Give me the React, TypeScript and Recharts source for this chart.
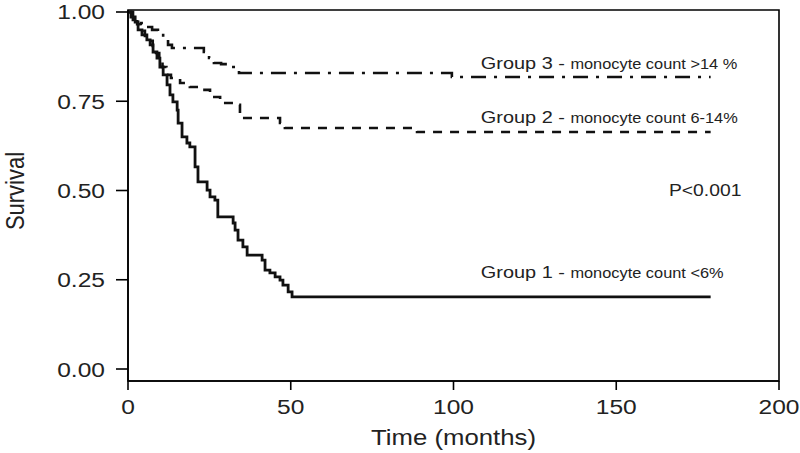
import React from 'react';
import { LineChart, Line, XAxis, YAxis, ReferenceArea, ReferenceDot } from 'recharts';

// Kaplan-Meier survival estimates (time in months, survival fraction)
const group1Time = [0, 0.9, 2.2, 3.1, 4.3, 5.8, 6.8, 7.7, 8.9, 9.8, 10.8, 12.0, 12.9, 13.8, 15.1, 15.4, 16.6, 18.1, 19.0, 20.6, 21.5, 24.3, 25.2, 26.7, 27.6, 32.3, 32.9, 33.8, 35.3, 36.6, 41.2, 42.1, 43.6, 45.2, 46.7, 47.6, 49.2, 50.4, 179];
const group1Surv = [1.0, 0.986, 0.972, 0.95, 0.936, 0.922, 0.908, 0.888, 0.871, 0.846, 0.824, 0.796, 0.768, 0.748, 0.725, 0.689, 0.65, 0.633, 0.622, 0.566, 0.524, 0.501, 0.482, 0.473, 0.426, 0.409, 0.389, 0.361, 0.342, 0.319, 0.305, 0.277, 0.269, 0.258, 0.249, 0.235, 0.216, 0.202, 0.202];

const group2Time = [0, 1.5, 2.8, 3.9, 5.2, 6.5, 7.6, 8.6, 9.6, 10.6, 11.8, 13.2, 16.0, 19.0, 22.1, 25.2, 28.3, 32.3, 34.4, 35.3, 46.7, 48.2, 88.8, 179];
const group2Surv = [1.0, 0.983, 0.966, 0.947, 0.933, 0.919, 0.905, 0.885, 0.868, 0.846, 0.824, 0.815, 0.801, 0.79, 0.782, 0.762, 0.745, 0.74, 0.711, 0.703, 0.689, 0.675, 0.664, 0.664];

const group3Time = [0, 1.5, 3.1, 5.2, 7.4, 9.2, 10.8, 12.3, 13.5, 23.3, 24.9, 26.4, 28.6, 31.0, 33.2, 34.1, 99.5, 179];
const group3Surv = [1.0, 0.978, 0.969, 0.958, 0.95, 0.944, 0.927, 0.908, 0.899, 0.888, 0.871, 0.857, 0.854, 0.846, 0.838, 0.829, 0.818, 0.818];

const xTicks = [0, 50, 100, 150, 200];
const yTicks = [0, 0.25, 0.5, 0.75, 1.0];

const groupLabels = ['Group 3 - ', 'Group 2 - ', 'Group 1 - '];
const groupSubLabels = ['monocyte count >14 %', 'monocyte count 6-14%', 'monocyte count <6%'];
const labelTimes = [108.4, 108.4, 108.4];
const labelSurv = [0.84, 0.689, 0.255];
const pValueText = 'P<0.001';
const pValueTime = 166.2;
const pValueSurv = 0.485;

const toPoints = (t: number[], s: number[]) => t.map((v, i) => ({ t: v, s: s[i] }));
const g1 = toPoints(group1Time, group1Surv);
const g2 = toPoints(group2Time, group2Surv);
const g3 = toPoints(group3Time, group3Surv);

const FONT = '"Liberation Sans", Arial, Helvetica, sans-serif';
const SX = 1.17;
const TXT = '#222';

const XTick = (props: any) => {
  const { x, y, payload } = props;
  return (
    <g transform={`translate(${x},${y + 22}) scale(${SX},1)`}>
      <text x={0} y={0} textAnchor="middle" fontFamily={FONT} fontSize={21} fill={TXT}>{payload.value}</text>
    </g>
  );
};

const YTick = (props: any) => {
  const { x, y, payload } = props;
  return (
    <g transform={`translate(${x},${y + 7.5}) scale(${SX},1)`}>
      <text x={0} y={0} textAnchor="end" fontFamily={FONT} fontSize={21} fill={TXT}>{Number(payload.value).toFixed(2)}</text>
    </g>
  );
};

const XTitle = (props: any) => {
  const vb = props.viewBox || { x: 128, y: 381, width: 651, height: 72 };
  const cx = vb.x + vb.width / 2;
  return (
    <g transform={`translate(${cx},445) scale(${SX},1)`}>
      <text x={0} y={0} textAnchor="middle" fontFamily={FONT} fontSize={22} fill={TXT}>Time (months)</text>
    </g>
  );
};

const YTitle = () => (
  <g transform={`translate(24,191) scale(${SX},1) rotate(-90)`}>
    <text x={0} y={0} textAnchor="middle" fontFamily={FONT} fontSize={22} fill={TXT}>Survival</text>
  </g>
);

const makeGroupShape = (big: string, small: string) => (p: any) => (
  <g transform={`translate(${p.cx},${p.cy}) scale(${SX},1)`}>
    <text x={0} y={0} fontFamily={FONT} fill={TXT}>
      <tspan fontSize={17}>{big}</tspan>
      <tspan fontSize={14}>{small}</tspan>
    </text>
  </g>
);

const pShape = (p: any) => (
  <g transform={`translate(${p.cx},${p.cy}) scale(${SX},1)`}>
    <text x={0} y={0} fontFamily={FONT} fontSize={16.5} fill={TXT}>{pValueText}</text>
  </g>
);

const Y_MIN = -0.0336;
const Y_MAX = 1.0056;

export default function App() {
  return (
    <div style={{ position: 'absolute', left: 0, top: 0, width: 800, height: 453, background: '#fff' }}>
      <LineChart width={800} height={453} margin={{ top: 10, right: 21, left: 0, bottom: 0 }}>
        <XAxis
          type="number"
          dataKey="t"
          domain={[0, 200]}
          ticks={xTicks}
          allowDataOverflow
          height={72}
          tickSize={9}
          tickMargin={2}
          axisLine={{ stroke: '#000', strokeWidth: 1.6 }}
          tickLine={{ stroke: '#000', strokeWidth: 1.6 }}
          tick={<XTick />}
          label={<XTitle />}
        />
        <YAxis
          type="number"
          dataKey="s"
          domain={[Y_MIN, Y_MAX]}
          ticks={yTicks}
          allowDataOverflow
          width={128}
          tickSize={12}
          tickMargin={11}
          axisLine={{ stroke: '#000', strokeWidth: 1.6 }}
          tickLine={{ stroke: '#000', strokeWidth: 1.6 }}
          tick={<YTick />}
          label={<YTitle />}
        />
        <ReferenceArea x1={0} x2={200} y1={Y_MIN} y2={Y_MAX} fill="none" stroke="#000" strokeWidth={1.6} fillOpacity={0} />
        <Line data={g3} dataKey="s" type="stepAfter" stroke="#111" strokeWidth={2.6} strokeDasharray="15 8 3 8" dot={false} isAnimationActive={false} />
        <Line data={g2} dataKey="s" type="stepAfter" stroke="#111" strokeWidth={2.6} strokeDasharray="9 8" dot={false} isAnimationActive={false} />
        <Line data={g1} dataKey="s" type="stepAfter" stroke="#111" strokeWidth={2.8} dot={false} isAnimationActive={false} />
        {groupLabels.map((g, i) => (
          <ReferenceDot key={g} x={labelTimes[i]} y={labelSurv[i]} r={0} shape={makeGroupShape(g, groupSubLabels[i])} />
        ))}
        <ReferenceDot x={pValueTime} y={pValueSurv} r={0} shape={pShape} />
      </LineChart>
    </div>
  );
}
